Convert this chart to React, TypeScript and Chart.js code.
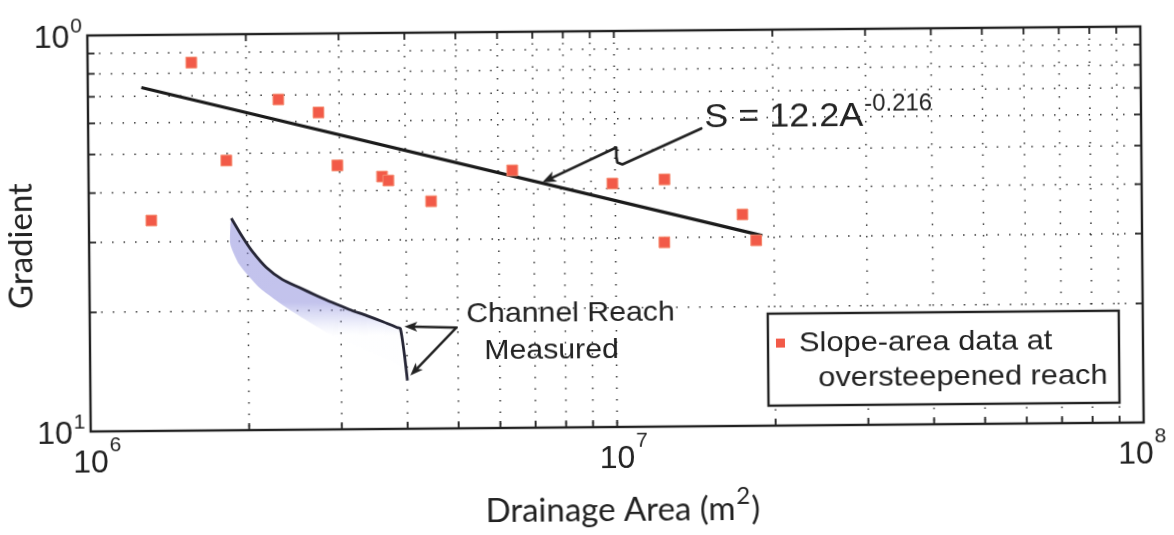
import React, { useEffect, useRef } from 'react';
import { Chart, registerables } from 'chart.js';

Chart.register(...registerables);

// ---------- data ----------
const xGridTicks = [1e6, 2e6, 3e6, 4e6, 5e6, 6e6, 7e6, 8e6, 9e6, 1e7, 2e7, 3e7, 4e7, 5e7, 6e7, 7e7, 8e7, 9e7, 1e8];
const yGridTicks = [0.1, 0.2, 0.3, 0.4, 0.5, 0.6, 0.7, 0.8, 0.9, 1];
const xTickLabels = [
  { v: 1e6, base: '10', exp: '6' },
  { v: 1e7, base: '10', exp: '7' },
  { v: 1e8, base: '10', exp: '8' },
];
const yTickLabels = [
  { v: 1, base: '10', exp: '0' },
  { v: 0.1, base: '10', exp: '1' },
];

const areaValues = [1.314e6, 1.574e6, 1.828e6, 2.30e6, 2.74e6, 2.97e6, 3.61e6, 3.71e6, 4.47e6, 6.38e6, 9.88e6, 1.241e7, 1.238e7, 1.743e7, 1.85e7];
const gradientValues = [0.340, 0.850, 0.480, 0.683, 0.632, 0.464, 0.434, 0.424, 0.375, 0.447, 0.412, 0.421, 0.292, 0.342, 0.294];

const fitArea = [1.264e6, 1.90e7];
const fitGradient = [0.737, 0.302];

const reachArea = [1.864e6, 1.955e6, 2.042e6, 2.169e6, 2.325e6, 2.503e6, 2.697e6, 2.89e6, 3.113e6, 3.353e6, 3.595e6, 3.837e6, 3.888e6, 3.954e6, 4.003e6];
const reachGradient = [0.343, 0.308, 0.2825, 0.2573, 0.2397, 0.2286, 0.2181, 0.2092, 0.2007, 0.1936, 0.1868, 0.1802, 0.1792, 0.154, 0.1324];
const reachLowerArea = [1.856e6, 1.855e6, 1.927e6, 2.101e6, 2.395e6, 2.886e6, 3.393e6, 3.866e6, 3.99e6];
const reachLowerGradient = [0.331, 0.2945, 0.262, 0.229, 0.2013, 0.1726, 0.157, 0.1445, 0.1324];

const fitArrowArea = [1.461e7, 1.033e7, 1.0107e7, 1.0065e7, 1.0065e7, 7.27e6];
const fitArrowGradient = [0.565, 0.46, 0.4655, 0.482, 0.508, 0.416];
const reachArrowFrom = { x: 4.97e6, y: 0.1797 };
const reachArrowTips = [
  { x: 3.957e6, y: 0.1813 },
  { x: 4.055e6, y: 0.1362 },
];

const equationAnchor = { x: 1.481e7, y: 0.568 };
const equationMain = 'S = 12.2A';
const equationExp = '-0.216';
const reachLabelAnchors = [
  { x: 5.19e6, y: 0.185, text: 'Channel Reach' },
  { x: 5.61e6, y: 0.149, text: 'Measured' },
];
const legendLines = ['Slope-area data at', 'oversteepened reach'];
const xTitleMain = 'Drainage Area (m';
const xTitleExp = '2';
const xTitleEnd = ')';
const yTitle = 'Gradient';

// ---------- helpers ----------
const zip = (xs: number[], ys: number[]) => xs.map((x, i) => ({ x, y: ys[i] }));

const INK = '#222222';
const SANS = '"Liberation Sans", Arial, sans-serif';
const HUMAN = 'Lato, "Open Sans", sans-serif';

function drawText(ctx: CanvasRenderingContext2D, s: string, x: number, y: number, size: number, font: string, align: CanvasTextAlign = 'left', hs = 1): number {
  ctx.save();
  ctx.font = `${size}px ${font}`;
  ctx.fillStyle = INK;
  ctx.textBaseline = 'alphabetic';
  const w = ctx.measureText(s).width * hs;
  let dx = 0;
  if (align === 'center') dx = -w / 2;
  else if (align === 'right') dx = -w;
  ctx.translate(x + dx, y);
  ctx.scale(hs, 1);
  ctx.textAlign = 'left';
  ctx.fillText(s, 0, 0);
  ctx.restore();
  return w;
}

function drawArrow(ctx: CanvasRenderingContext2D, pts: { x: number; y: number }[], width = 2.6, headLen = 14, headHalf = 5.5) {
  const n = pts.length;
  const tip = pts[n - 1];
  const prev = pts[n - 2];
  const ang = Math.atan2(tip.y - prev.y, tip.x - prev.x);
  const bx = tip.x - Math.cos(ang) * headLen * 0.8;
  const by = tip.y - Math.sin(ang) * headLen * 0.8;
  ctx.save();
  ctx.strokeStyle = INK;
  ctx.fillStyle = INK;
  ctx.lineWidth = width;
  ctx.lineJoin = 'round';
  ctx.lineCap = 'round';
  ctx.beginPath();
  ctx.moveTo(pts[0].x, pts[0].y);
  for (let i = 1; i < n - 1; i++) ctx.lineTo(pts[i].x, pts[i].y);
  ctx.lineTo(bx, by);
  ctx.stroke();
  ctx.beginPath();
  ctx.moveTo(tip.x, tip.y);
  ctx.lineTo(tip.x - Math.cos(ang) * headLen - Math.sin(ang) * headHalf, tip.y - Math.sin(ang) * headLen + Math.cos(ang) * headHalf);
  ctx.lineTo(tip.x - Math.cos(ang) * headLen * 0.75, tip.y - Math.sin(ang) * headLen * 0.75);
  ctx.lineTo(tip.x - Math.cos(ang) * headLen + Math.sin(ang) * headHalf, tip.y - Math.sin(ang) * headLen - Math.cos(ang) * headHalf);
  ctx.closePath();
  ctx.fill();
  ctx.restore();
}

const decorPlugin = {
  id: 'decor',
  beforeDatasetsDraw(chart: any) {
    const { ctx, chartArea: a, scales } = chart;
    const xs = scales.x;
    const ys = scales.y;
    ctx.save();
    ctx.strokeStyle = 'rgba(30,30,30,0.9)';
    ctx.lineWidth = 1.5;
    ctx.setLineDash([1.5, 10]);
    for (const v of xGridTicks) {
      const px = xs.getPixelForValue(v);
      if (px <= a.left + 1 || px >= a.right - 1) continue;
      ctx.beginPath();
      ctx.moveTo(px, a.top);
      ctx.lineTo(px, a.bottom);
      ctx.stroke();
    }
    for (const v of yGridTicks) {
      const py = ys.getPixelForValue(v);
      if (py <= a.top + 1 || py >= a.bottom - 1) continue;
      ctx.beginPath();
      ctx.moveTo(a.left, py);
      ctx.lineTo(a.right, py);
      ctx.stroke();
    }
    ctx.restore();
  },
  afterDatasetsDraw(chart: any) {
    const { ctx, chartArea: a, scales } = chart;
    const xs = scales.x;
    const ys = scales.y;
    const P = (p: { x: number; y: number }) => ({ x: xs.getPixelForValue(p.x), y: ys.getPixelForValue(p.y) });

    // inside tick marks
    ctx.save();
    ctx.strokeStyle = INK;
    ctx.lineWidth = 1.8;
    const tl = 7;
    for (const v of xGridTicks) {
      const px = xs.getPixelForValue(v);
      ctx.beginPath();
      ctx.moveTo(px, a.bottom);
      ctx.lineTo(px, a.bottom - tl);
      ctx.moveTo(px, a.top);
      ctx.lineTo(px, a.top + tl);
      ctx.stroke();
    }
    for (const v of yGridTicks) {
      const py = ys.getPixelForValue(v);
      ctx.beginPath();
      ctx.moveTo(a.left, py);
      ctx.lineTo(a.left + tl, py);
      ctx.moveTo(a.right, py);
      ctx.lineTo(a.right - tl, py);
      ctx.stroke();
    }
    // frame
    ctx.lineWidth = 2.4;
    ctx.strokeRect(a.left, a.top, a.right - a.left, a.bottom - a.top);
    ctx.restore();

    // tick labels
    xTickLabels.forEach((t, i) => {
      let px = xs.getPixelForValue(t.v);
      if (i === xTickLabels.length - 1) px -= 8;
      const w = drawText(ctx, t.base, px, a.bottom + 41, 32, SANS, 'center');
      drawText(ctx, t.exp, px + w / 2 + 1, a.bottom + 20, 21, SANS, 'left');
    });
    yTickLabels.forEach((t) => {
      const py = ys.getPixelForValue(t.v);
      drawText(ctx, t.base, a.left - 18, py + 12, 32, SANS, 'right');
      drawText(ctx, t.exp, a.left - 17, py - 3, 21, SANS, 'left');
    });

    // axis titles
    const cx = (a.left + a.right) / 2 + 5;
    ctx.save();
    ctx.font = `33px ${HUMAN}`;
    const wMain = ctx.measureText(xTitleMain).width;
    ctx.font = `24px ${HUMAN}`;
    const wExp = ctx.measureText(xTitleExp).width;
    ctx.font = `33px ${HUMAN}`;
    const wEnd = ctx.measureText(xTitleEnd).width;
    ctx.restore();
    const total = wMain + wExp + wEnd + 2;
    let tx = cx - total / 2;
    drawText(ctx, xTitleMain, tx, a.bottom + 94, 33, HUMAN, 'left');
    tx += wMain + 1;
    drawText(ctx, xTitleExp, tx, a.bottom + 78, 24, HUMAN, 'left');
    tx += wExp + 1;
    drawText(ctx, xTitleEnd, tx, a.bottom + 94, 33, HUMAN, 'left');

    ctx.save();
    ctx.translate(a.left - 57, (a.top + a.bottom) / 2 + 12);
    ctx.rotate(-Math.PI / 2);
    drawText(ctx, yTitle, 0, 0, 33, HUMAN, 'center');
    ctx.restore();

    // equation annotation
    const fitArrowPts = zip(fitArrowArea, fitArrowGradient).map(P);
    drawArrow(ctx, fitArrowPts);
    const eq = P(equationAnchor);
    const we = drawText(ctx, equationMain, eq.x, eq.y, 33, SANS, 'left', 1.09);
    drawText(ctx, equationExp, eq.x + we + 1, eq.y - 15, 23, SANS, 'left', 1.04);

    // channel reach annotation
    const from = P(reachArrowFrom);
    reachArrowTips.forEach((t) => drawArrow(ctx, [from, P(t)], 2.4, 13, 5));
    reachLabelAnchors.forEach((l) => {
      const p = P(l);
      drawText(ctx, l.text, p.x, p.y, 28, SANS, 'left', 1.08);
    });

    // legend
    const lx0 = a.right - 375;
    const ly0 = a.bottom - 112;
    const lx1 = a.right - 24;
    const ly1 = a.bottom - 20;
    ctx.save();
    ctx.fillStyle = '#ffffff';
    ctx.fillRect(lx0, ly0, lx1 - lx0, ly1 - ly0);
    ctx.strokeStyle = INK;
    ctx.lineWidth = 2.4;
    ctx.strokeRect(lx0, ly0, lx1 - lx0, ly1 - ly0);
    const ds = chart.data.datasets[0];
    ctx.fillStyle = ds.backgroundColor;
    ctx.fillRect(lx0 + 8, ly0 + 25, 9, 9);
    ctx.restore();
    drawText(ctx, legendLines[0], lx0 + 31, ly0 + 38, 28, SANS, 'left', 1.1);
    drawText(ctx, legendLines[1], lx0 + 50, ly0 + 73, 28, SANS, 'left', 1.1);
  },
};

export default function App() {
  const ref = useRef<HTMLCanvasElement>(null);
  useEffect(() => {
    if (!ref.current) return;
    const shadeData = [
      ...zip(reachArea, reachGradient),
      ...zip(reachLowerArea, reachLowerGradient).reverse(),
    ];
    const chart = new Chart(ref.current, {
      type: 'scatter',
      data: {
        datasets: [
          {
            label: legendLines.join(' '),
            data: zip(areaValues, gradientValues),
            pointStyle: 'rect',
            pointRadius: 7.6,
            backgroundColor: '#f25a48',
            borderColor: '#f58a6e',
            borderWidth: 1,
            showLine: false,
          },
          {
            label: 'fit',
            data: zip(fitArea, fitGradient),
            showLine: true,
            borderColor: '#1a1a1a',
            borderWidth: 3.2,
            pointRadius: 0,
            fill: false,
          },
          {
            label: 'reach',
            data: zip(reachArea, reachGradient),
            showLine: true,
            borderColor: '#262636',
            borderWidth: 2.8,
            pointRadius: 0,
            tension: 0.25,
            fill: false,
          },
          {
            label: 'shade',
            data: shadeData,
            showLine: true,
            borderColor: 'rgba(0,0,0,0)',
            borderWidth: 1,
            pointRadius: 0,
            tension: 0.2,
            fill: 'shape',
            backgroundColor: (c: any) => {
              const ch = c.chart;
              if (!ch.chartArea) return 'rgba(150,150,225,0.3)';
              const xs = ch.scales.x;
              const ys = ch.scales.y;
              const x0 = xs.getPixelForValue(reachArea[7]);
              const y0 = ys.getPixelForValue(reachGradient[7]);
              const x1 = xs.getPixelForValue(reachLowerArea[5]);
              const y1 = ys.getPixelForValue(reachLowerGradient[5]);
              const g = ch.ctx.createLinearGradient(x0, y0, x1, y1);
              g.addColorStop(0, 'rgba(135,135,218,0.5)');
              g.addColorStop(0.5, 'rgba(160,165,230,0.28)');
              g.addColorStop(1, 'rgba(200,205,245,0.02)');
              return g;
            },
          },
        ],
      },
      options: {
        responsive: false,
        animation: false,
        events: [],
        layout: { padding: { left: 89, right: 32, top: 31, bottom: 108 } },
        scales: {
          x: { type: 'logarithmic', min: 1e6, max: 1e8, display: false },
          y: { type: 'logarithmic', min: 0.1, max: 1, display: false },
        },
        plugins: {
          legend: { display: false },
          tooltip: { enabled: false },
        },
      },
      plugins: [decorPlugin],
    });
    return () => chart.destroy();
  }, []);

  return (
    <div style={{ position: 'absolute', left: 0, top: 0, width: 1174, height: 535, overflow: 'hidden', background: '#fff' }}>
      <div style={{ position: 'absolute', left: 0, top: 0, width: 1174, height: 535, transform: 'rotate(-0.49deg)', transformOrigin: '615.5px 229.25px' }}>
        <canvas ref={ref} width={1174} height={535} style={{ display: 'block' }} />
      </div>
    </div>
  );
}
